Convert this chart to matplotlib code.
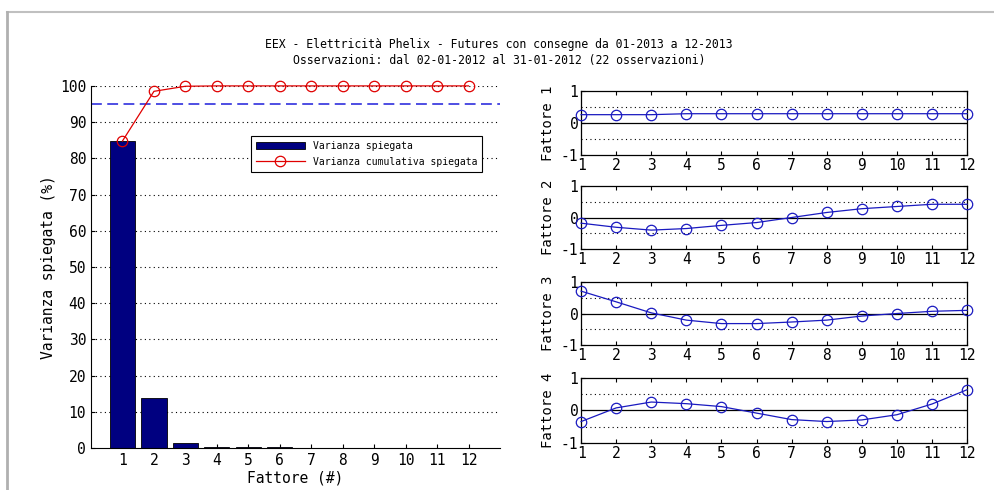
import matplotlib.pyplot as plt
from matplotlib.lines import Line2D

# dati
fattori = list(range(1, 13))
varianza = [84.8, 13.9, 1.5, 0.3, 0.2, 0.15, 0.1, 0.1, 0.1, 0.1, 0.1, 0.0]
cumulata = [84.8, 98.5, 99.9, 100, 100, 100, 100, 100, 100, 100, 100, 100]
soglia = 95

f1 = [0.26, 0.26, 0.26, 0.29, 0.29, 0.29, 0.29, 0.29, 0.29, 0.29, 0.29, 0.29]
f2 = [-0.18, -0.31, -0.40, -0.35, -0.25, -0.16, 0.0, 0.16, 0.28, 0.35, 0.42, 0.42]
f3 = [0.71, 0.37, 0.02, -0.21, -0.32, -0.32, -0.27, -0.21, -0.08, 0.0, 0.07, 0.10]
f4 = [-0.34, 0.08, 0.26, 0.21, 0.12, -0.08, -0.28, -0.34, -0.29, -0.13, 0.20, 0.64]
loadings = [f1, f2, f3, f4]

titolo = ("EEX - Elettricità Phelix - Futures con consegne da 01-2013 a 12-2013\n"
          "Osservazioni: dal 02-01-2012 al 31-01-2012 (22 osservazioni)")

plt.rcParams['font.family'] = 'DejaVu Sans Mono'
plt.rcParams['axes.unicode_minus'] = False

fig = plt.figure(figsize=(9.95, 4.9), dpi=100)

# cornice grigia
fig.add_artist(Line2D([0.007, 1.0], [0.9745, 0.9745], color='#c0c0c0', lw=1.5))
fig.add_artist(Line2D([0.007, 0.007], [0.0, 0.9745], color='#b0b0b0', lw=2))

fig.text(0.5015, 0.893, titolo, ha='center', va='center', fontsize=8.3,
         linespacing=1.35)

# grafico varianza
ax = fig.add_axes([0.0915, 0.0857, 0.411, 0.739])
barre = ax.bar(fattori, varianza, width=0.8, color='#000080', edgecolor='black', lw=0.6,
               zorder=2)
linea, = ax.plot(fattori, cumulata, color='#e00000', lw=0.9, marker='o', ms=7.5,
                 mfc='none', mec='#e00000', mew=0.9, zorder=3, clip_on=False)
ax.axhline(soglia, color='#4040e0', lw=1.3, ls=(0, (6, 3)), zorder=2)
for v in range(10, 101, 10):
    ax.axhline(v, color='black', lw=0.8, ls=(0, (1, 3)), zorder=1)
ax.set_xlim(0, 13)
ax.set_ylim(0, 100)
ax.set_xticks(fattori)
ax.set_yticks(range(0, 101, 10))
ax.tick_params(direction='in', labelsize=10.5, length=3)
for s in ['top', 'right']:
    ax.spines[s].set_visible(False)
ax.set_xlabel('Fattore (#)', fontsize=10.5, labelpad=2)
ax.set_ylabel('Varianza spiegata (%)', fontsize=10.5, labelpad=3)
leg = ax.legend([barre, linea], ['Varianza spiegata', 'Varianza cumulativa spiegata'],
                loc='upper left', bbox_to_anchor=(0.38, 0.875), fontsize=7,
                frameon=True, fancybox=False, edgecolor='black', framealpha=1,
                handlelength=5, borderpad=0.5, labelspacing=0.6, handletextpad=0.8)
leg.get_frame().set_linewidth(0.8)

# grafici dei fattori
basi = [0.6837, 0.4918, 0.2959, 0.0959]
altezze = [0.1306, 0.1286, 0.1286, 0.1327]
for i, vals in enumerate(loadings):
    a = fig.add_axes([0.584, basi[i], 0.388, altezze[i]])
    a.axhline(0, color='black', lw=0.9, zorder=1)
    a.axhline(0.5, color='black', lw=0.8, ls=(0, (1, 3)), zorder=1)
    a.axhline(-0.5, color='black', lw=0.8, ls=(0, (1, 3)), zorder=1)
    a.plot(fattori, vals, color='#1a1ac0', lw=0.9, marker='o', ms=7.5,
           mfc='none', mec='#1a1ac0', mew=0.9, clip_on=False, zorder=3)
    a.set_xlim(1, 12)
    a.set_ylim(-1, 1)
    a.set_xticks(fattori)
    a.set_yticks([-1, 0, 1])
    a.tick_params(direction='in', top=True, right=True, labelsize=10.5, length=3, pad=2)
    for s in a.spines.values():
        s.set_linewidth(0.9)
    a.set_ylabel('Fattore %d' % (i + 1), fontsize=10, labelpad=4)

fig.savefig('out.png', dpi=100)
